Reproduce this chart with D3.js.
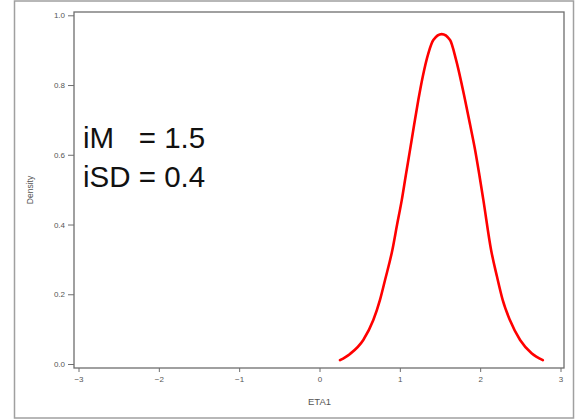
<!DOCTYPE html>
<html>
<head>
<meta charset="utf-8">
<script src="https://cdn.jsdelivr.net/npm/d3@7"></script>
<style>
  html, body { margin: 0; padding: 0; background: #ffffff; }
  svg { display: block; }
</style>
</head>
<body>
<div id="chart"></div>
<script>
// Estimated density of ETA1
const etaValues = [0.255, 0.38, 0.545, 0.67, 0.753, 0.816, 0.907, 0.966, 1.024, 1.075,
  1.127, 1.178, 1.230, 1.285, 1.355, 1.417, 1.522, 1.625, 1.70, 1.812, 1.875, 1.937,
  1.99, 2.040, 2.136, 2.21, 2.28, 2.37, 2.497, 2.64, 2.78];
const densityValues = [0.011, 0.029, 0.069, 0.126, 0.184, 0.241, 0.327, 0.400, 0.470, 0.542,
  0.614, 0.686, 0.757, 0.824, 0.891, 0.929, 0.946, 0.929, 0.872, 0.757, 0.686, 0.614,
  0.542, 0.470, 0.327, 0.250, 0.184, 0.126, 0.069, 0.031, 0.011];
const xTicks = [-3, -2, -1, 0, 1, 2, 3];
const yTicks = [0.0, 0.2, 0.4, 0.6, 0.8, 1.0];
const annotationLines = ["iM   = 1.5", "iSD = 0.4"];

const W = 576, H = 419;
const plot = { left: 74, top: 12, right: 564, bottom: 368 };

const svg = d3.select("#chart").append("svg")
  .attr("width", W).attr("height", H);

// outer frame
svg.append("rect")
  .attr("x", 14.5).attr("y", 1).attr("width", 559).attr("height", 417)
  .attr("fill", "none").attr("stroke", "#a0a0a0").attr("stroke-width", 1.5);

const x = d3.scaleLinear().domain([-3, 3]).range([78.5, 560.5]);
const y = d3.scaleLinear().domain([0, 1]).range([364, 15.3]);

// plot frame
svg.append("rect")
  .attr("x", plot.left).attr("y", plot.top)
  .attr("width", plot.right - plot.left).attr("height", plot.bottom - plot.top)
  .attr("fill", "none").attr("stroke", "#6e6e6e").attr("stroke-width", 1.3);

const tickFont = "'Liberation Sans', Arial, sans-serif";

// y axis
const yAxis = svg.append("g")
  .attr("transform", `translate(${plot.left},0)`)
  .call(d3.axisLeft(y).tickValues(yTicks).tickFormat(d3.format(".1f")).tickSize(6).tickPadding(3));
yAxis.select(".domain").remove();
yAxis.selectAll("line").attr("stroke", "#6e6e6e");
yAxis.selectAll("text").attr("fill", "#555").style("font-family", tickFont).style("font-size", "8px");

// x axis
const xAxis = svg.append("g")
  .attr("transform", `translate(0,${plot.bottom})`)
  .call(d3.axisBottom(x).tickValues(xTicks).tickFormat(d3.format("d")).tickSize(4).tickPadding(4));
xAxis.select(".domain").remove();
xAxis.selectAll("line").attr("stroke", "#6e6e6e");
xAxis.selectAll("text").attr("fill", "#555").style("font-family", tickFont).style("font-size", "8px");

// axis titles
svg.append("text")
  .attr("x", x(0)).attr("y", 405)
  .attr("text-anchor", "middle")
  .attr("fill", "#555").style("font-family", tickFont).style("font-size", "9.5px")
  .text("ETA1");
svg.append("text")
  .attr("transform", `translate(33,${(plot.top + plot.bottom) / 2}) rotate(-90)`)
  .attr("text-anchor", "middle")
  .attr("fill", "#555").style("font-family", tickFont).style("font-size", "8.5px")
  .text("Density");

// density curve
const line = d3.line()
  .x((d, i) => x(etaValues[i]))
  .y(d => y(d))
  .curve(d3.curveMonotoneX);
svg.append("path")
  .datum(densityValues)
  .attr("d", line)
  .attr("fill", "none")
  .attr("stroke", "#ff0000")
  .attr("stroke-width", 2.6)
  .attr("stroke-linejoin", "round")
  .attr("stroke-linecap", "round");

// parameter annotation
svg.selectAll("text.note")
  .data(annotationLines)
  .enter().append("text")
  .attr("class", "note")
  .attr("x", 83)
  .attr("y", (d, i) => 148 + i * 39)
  .attr("fill", "#111")
  .style("font-family", tickFont)
  .style("font-size", "29.5px")
  .style("white-space", "pre")
  .attr("xml:space", "preserve")
  .text(d => d);
</script>
</body>
</html>
